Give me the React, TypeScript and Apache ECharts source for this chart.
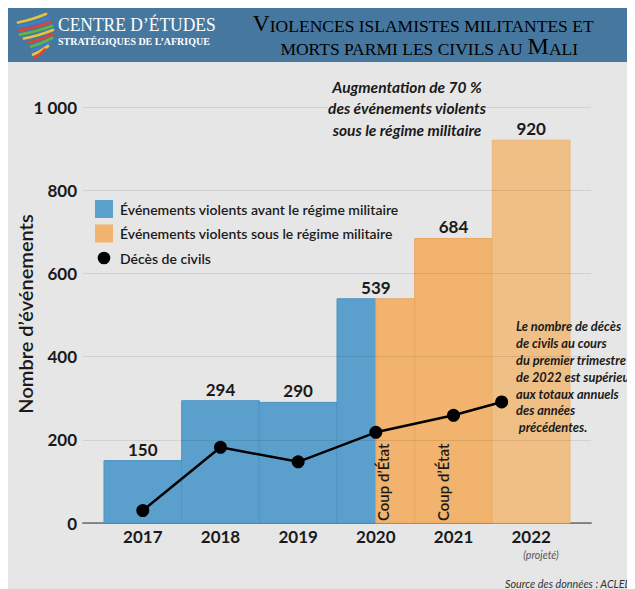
import React, { useEffect, useRef } from "react";
import * as echarts from "echarts";

const years = [2017, 2018, 2019, 2020, 2021, 2022];
const events = [150, 294, 290, 539, 684, 920];
const militaryShare = [0, 0, 0, 0.5, 1, 1];
const projected = [0, 0, 0, 0, 0, 1];
const deathX = [2017, 2018, 2019, 2020, 2021, 2021.62];
const deaths = [30, 182, 147, 218, 259, 291];
const yTickLabels: Record<number, string> = { 0: "0", 200: "200", 400: "400", 600: "600", 800: "800", 1000: "1 000" };

const BLUE = "#5ba0cd";
const BLUE_EDGE = "#4e93c3";
const ORANGE = "#f1b36e";
const ORANGE_EDGE = "#e9a862";
const LIGHT = "#efbf86";
const LIGHT_EDGE = "#ebb779";
const SANS = "Lato";
const SERIF = "Liberation Serif";

const nameBefore = "Événements violents avant le régime militaire";
const nameUnder = "Événements violents sous le régime militaire";
const nameDeaths = "Décès de civils";

const circleIcon =
  "path://M0 0h0.01v0.01h-0.01zM17 17h0.01v0.01h-0.01zM2.5 8.5a6 6 0 1 0 12 0a6 6 0 1 0 -12 0z";

function logoStripes() {
  const rows: [number, number, number, string][] = [
    [10, 10, 38, "#e8c43c"],
    [10, 14, 41, "#3d7fd0"],
    [11, 18, 43, "#d8453b"],
    [12, 22, 44, "#61b44a"],
    [16, 26, 45, "#e8c43c"],
    [21, 30, 45, "#d8453b"],
    [23, 34, 44, "#61b44a"],
    [24, 38, 42, "#3d7fd0"],
    [25, 42, 40, "#e8c43c"],
    [26, 45.5, 37, "#d8453b"],
  ];
  return rows.map((r) => ({
    type: "polyline",
    z: 5,
    shape: {
      points: [
        [r[0], r[1] + 4.5],
        [(r[0] + r[2]) / 2, r[1] + 1],
        [r[2], r[1] - 4],
      ],
      smooth: 0.4,
    },
    style: { stroke: r[3], lineWidth: 2.8, fill: null, lineCap: "round" },
  }));
}

export default function App() {
  const ref = useRef<HTMLDivElement>(null);
  useEffect(() => {
    document.body.style.overflow = "hidden";
    const chart = echarts.init(ref.current!, null, { renderer: "svg" });
    const barData = years.map((y, i) => [y, events[i], militaryShare[i], projected[i]]);

    const option: any = {
      animation: false,
      backgroundColor: "#e6e6e6",
      grid: { left: 75, right: 44, top: 99, bottom: 66, containLabel: false, outerBoundsMode: "none" },
      legend: {
        orient: "vertical",
        left: 87,
        top: 192,
        padding: 0,
        itemWidth: 18,
        itemHeight: 18,
        itemGap: 6.5,
        selectedMode: false,
        textStyle: { fontFamily: SANS, fontSize: 14, fontWeight: 600, color: "#1a1a1a", padding: [0, 0, 0, 2] },
        data: [
          { name: nameBefore, icon: "rect" },
          { name: nameUnder, icon: "rect" },
          { name: nameDeaths, icon: circleIcon },
        ],
      },
      xAxis: {
        type: "value",
        min: 2016.23,
        max: 2022.77,
        splitLine: { show: false },
        axisTick: { show: false },
        axisLine: { show: true, lineStyle: { color: "#8c8c8c", width: 2 } },
        axisLabel: {
          customValues: years,
          formatter: (v: number) => String(v),
          fontFamily: SANS,
          fontSize: 17,
          fontWeight: "bold",
          color: "#1a1a1a",
          margin: 5,
        },
      },
      yAxis: {
        type: "value",
        min: 0,
        max: 1000,
        interval: 200,
        z: 5,
        axisLine: { show: false },
        axisTick: { show: false },
        splitLine: { lineStyle: { color: "rgba(0,0,0,0.09)", width: 1 } },
        axisLabel: {
          formatter: (v: number) => yTickLabels[v] ?? String(v),
          fontFamily: SANS,
          fontSize: 17,
          fontWeight: "bold",
          color: "#1a1a1a",
          margin: 6,
        },
      },
      series: [
        {
          name: nameBefore,
          type: "custom",
          z: 2,
          itemStyle: { color: BLUE },
          encode: { x: 0, y: 1 },
          data: barData,
          renderItem: (params: any, api: any) => {
            const y = api.value(0), v = api.value(1), s = api.value(2);
            const p0 = api.coord([y - 0.5, 0]);
            const p1 = api.coord([y + 0.5, v]);
            const split = p0[0] + (p1[0] - p0[0]) * (1 - s);
            const children: any[] = [];
            if (s < 1) {
              children.push({
                type: "rect",
                shape: { x: p0[0], y: p1[1], width: split - p0[0], height: p0[1] - p1[1] },
                style: { fill: BLUE, stroke: BLUE_EDGE, lineWidth: 1 },
              });
            }
            children.push({
              type: "text",
              z2: 20,
              style: {
                text: String(v),
                x: (p0[0] + p1[0]) / 2,
                y: p1[1] - 3,
                align: "center",
                verticalAlign: "bottom",
                fill: "#1a1a1a",
                font: `bold 17px ${SANS}`,
              },
            });
            return { type: "group", children };
          },
        },
        {
          name: nameUnder,
          type: "custom",
          z: 2,
          itemStyle: { color: ORANGE },
          encode: { x: 0, y: 1 },
          data: barData,
          renderItem: (params: any, api: any) => {
            const y = api.value(0), v = api.value(1), s = api.value(2), pr = api.value(3);
            if (s <= 0) return { type: "group", children: [] };
            const p0 = api.coord([y - 0.5, 0]);
            const p1 = api.coord([y + 0.5, v]);
            const split = p0[0] + (p1[0] - p0[0]) * (1 - s);
            return {
              type: "rect",
              shape: { x: split, y: p1[1], width: p1[0] - split, height: p0[1] - p1[1] },
              style: { fill: pr ? LIGHT : ORANGE, stroke: pr ? LIGHT_EDGE : ORANGE_EDGE, lineWidth: 1 },
            };
          },
        },
        {
          name: nameDeaths,
          type: "line",
          z: 10,
          data: deathX.map((x, i) => [x, deaths[i]]),
          symbol: "circle",
          symbolSize: 13,
          lineStyle: { color: "#000", width: 2.5 },
          itemStyle: { color: "#000" },
        },
      ],
      graphic: [
        { type: "rect", shape: { x: 0, y: 0, width: 627, height: 54 }, style: { fill: "#46789f" }, z: 1 },
        ...logoStripes(),
        {
          type: "text",
          x: 50,
          y: 17,
          z: 5,
          scaleX: 0.92,
          style: { text: "CENTRE D’ÉTUDES", fill: "#fff", font: `19px ${SERIF}`, verticalAlign: "middle" },
        },
        {
          type: "text",
          x: 50,
          y: 33,
          z: 5,
          scaleX: 0.95,
          style: { text: "STRATÉGIQUES DE L’AFRIQUE", fill: "#fff", font: `bold 10.5px ${SERIF}`, verticalAlign: "middle" },
        },
        {
          type: "text",
          x: 415,
          y: 27,
          z: 5,
          style: {
            text: "{b|V}{s|IOLENCES ISLAMISTES MILITANTES ET}",
            align: "center",
            verticalAlign: "bottom",
            rich: {
              b: { fontFamily: SERIF, fontSize: 24, color: "#fff", verticalAlign: "bottom" },
              s: { fontFamily: SERIF, fontSize: 17.5, color: "#fff", verticalAlign: "bottom" },
            },
          },
        },
        {
          type: "text",
          x: 421,
          y: 50,
          z: 5,
          style: {
            text: "{s|MORTS PARMI LES CIVILS AU }{b|M}{s|ALI}",
            align: "center",
            verticalAlign: "bottom",
            rich: {
              b: { fontFamily: SERIF, fontSize: 24, color: "#fff", verticalAlign: "bottom" },
              s: { fontFamily: SERIF, fontSize: 17.5, color: "#fff", verticalAlign: "bottom" },
            },
          },
        },
        {
          type: "text",
          x: 17,
          y: 306,
          rotation: Math.PI / 2,
          z: 20,
          style: {
            text: "Nombre d’événements",
            font: `600 20px ${SANS}`,
            align: "center",
            verticalAlign: "middle",
            fill: "#1a1a1a",
          },
        },
        {
          type: "text",
          x: 399,
          y: 100,
          z: 20,
          style: {
            text: "Augmentation de 70 %\ndes événements violents\nsous le régime militaire",
            font: `italic bold 15.5px ${SANS}`,
            lineHeight: 21.5,
            align: "center",
            verticalAlign: "middle",
            fill: "#1a1a1a",
            backgroundColor: "#e6e6e6",
          },
        },
        {
          type: "text",
          x: 508,
          y: 310,
          z: 20,
          style: {
            text: "Le nombre de décès\nde civils au cours\ndu premier trimestre\nde 2022 est supérieur\naux totaux annuels\ndes années\n précédentes.",
            font: `italic bold 12.8px ${SANS}`,
            lineHeight: 16.8,
            align: "left",
            verticalAlign: "top",
            fill: "#1a1a1a",
          },
        },
        {
          type: "text",
          x: 375,
          y: 513,
          rotation: Math.PI / 2,
          z: 20,
          style: { text: "Coup d’État", font: `600 15px ${SANS}`, align: "left", verticalAlign: "middle", fill: "#1a1a1a" },
        },
        {
          type: "text",
          x: 435,
          y: 513,
          rotation: Math.PI / 2,
          z: 20,
          style: { text: "Coup d’État", font: `600 15px ${SANS}`, align: "left", verticalAlign: "middle", fill: "#1a1a1a" },
        },
        {
          type: "text",
          x: 533,
          y: 547,
          z: 20,
          style: { text: "(projeté)", font: `italic 10.5px ${SANS}`, align: "center", verticalAlign: "middle", fill: "#555" },
        },
        {
          type: "text",
          x: 497,
          y: 575,
          z: 20,
          style: { text: "Source des données : ACLED", font: `italic 10.8px ${SANS}`, align: "left", verticalAlign: "middle", fill: "#333" },
        },
      ],
    };
    chart.setOption(option);
    return () => chart.dispose();
  }, []);
  return <div ref={ref} style={{ width: 627, height: 581 }} />;
}
